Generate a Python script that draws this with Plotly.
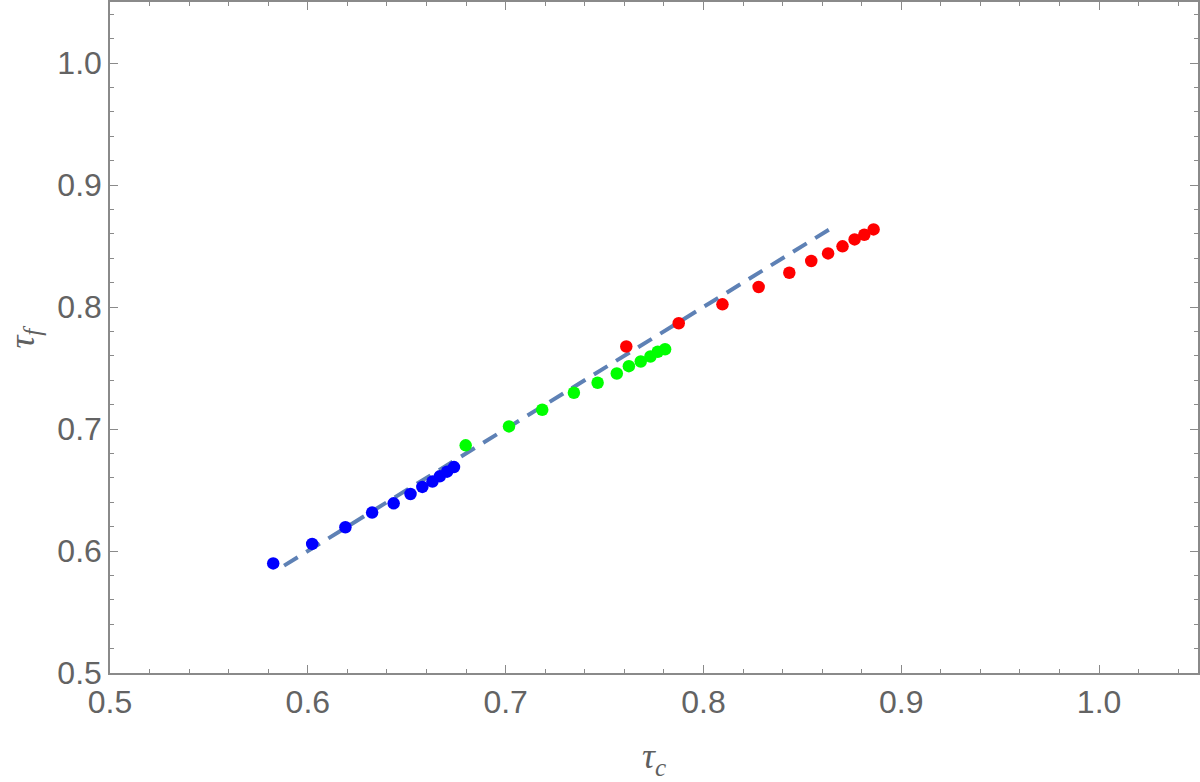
import plotly.graph_objects as go

# blue set
blue_x = [0.5825, 0.6022, 0.6190, 0.6325, 0.6434, 0.6519, 0.6579, 0.6630, 0.6667, 0.6704, 0.6739]
blue_y = [0.5898, 0.6058, 0.6195, 0.6315, 0.6391, 0.6467, 0.6525, 0.6569, 0.6612, 0.6650, 0.6688]

# green set
green_x = [0.6798, 0.7017, 0.7185, 0.7345, 0.7465, 0.7562, 0.7623, 0.7683, 0.7732, 0.7769, 0.7806]
green_y = [0.6866, 0.7021, 0.7158, 0.7297, 0.7379, 0.7455, 0.7515, 0.7553, 0.7594, 0.7633, 0.7654]

# red set
red_x = [0.7610, 0.7875, 0.8096, 0.8279, 0.8434, 0.8545, 0.8630, 0.8703, 0.8764, 0.8813, 0.8860]
red_y = [0.7676, 0.7867, 0.8022, 0.8164, 0.8281, 0.8377, 0.8439, 0.8497, 0.8554, 0.8592, 0.8636]

# dashed reference line
line_x = [0.588, 0.864]
line_y = [0.588, 0.864]

fig = go.Figure()

fig.add_trace(go.Scatter(x=line_x, y=line_y, mode='lines',
                         line=dict(color='#5E81B5', width=4, dash='16px,10px'),
                         hoverinfo='skip'))

for xs, ys, col in [(blue_x, blue_y, '#0000FF'),
                    (green_x, green_y, '#00FF00'),
                    (red_x, red_y, '#FF0000')]:
    fig.add_trace(go.Scatter(x=xs, y=ys, mode='markers',
                             marker=dict(size=12.5, color=col, line=dict(width=0))))

axis_common = dict(
    range=[0.5, 1.05],
    tick0=0.5, dtick=0.1,
    tickformat='.1f',
    ticks='inside', ticklen=8, tickwidth=1.2, tickcolor='#8a8a8a',
    minor=dict(ticks='inside', ticklen=4, tickwidth=1, tickcolor='#8a8a8a', dtick=0.02, showgrid=False),
    showline=True, linecolor='#8a8a8a', linewidth=1.5,
    mirror='ticks',
    showgrid=False, zeroline=False,
    automargin=False,
    tickfont=dict(family='Liberation Sans, Arial, sans-serif', size=32, color='#636363'),
)

fig.update_xaxes(**axis_common)
fig.update_yaxes(**axis_common)

title_font = dict(family='Liberation Serif, Times New Roman, serif', size=36, color='#5f5f5f')

fig.update_layout(
    width=1200, height=782,
    margin=dict(l=110, r=2, t=2, b=109),
    plot_bgcolor='white', paper_bgcolor='white',
    showlegend=False,
    annotations=[
        dict(text='<i>τ<sub>c</sub></i>', xref='paper', yref='paper', x=0.5, y=-0.128,
             xanchor='center', yanchor='middle', showarrow=False, font=title_font),
        dict(text='<i>τ<sub>f</sub></i>', xref='paper', yref='paper', x=-0.079, y=0.5,
             xanchor='center', yanchor='middle', showarrow=False, textangle=-90, font=title_font),
    ],
)

fig.write_html("out.html", config={'displayModeBar': False},
               post_script="document.body.style.margin='0';")
